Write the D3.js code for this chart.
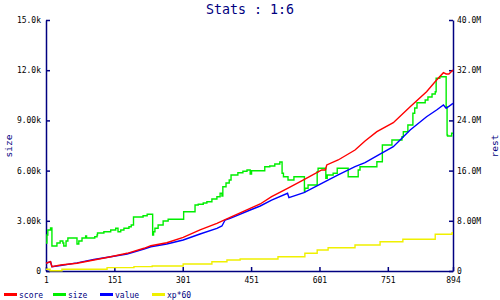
<!DOCTYPE html>
<html>
<head>
<meta charset="utf-8">
<script src="https://cdn.jsdelivr.net/npm/d3@7"></script>
<style>
  body { margin: 0; background: #fff; }
  svg { display: block; }
  text { font-family: "DejaVu Sans Mono", monospace; }
</style>
</head>
<body>
<svg id="chart" width="500" height="300"></svg>
<script>
// series, as [index, value] pairs
const score = [[1,1.23e6],[11,1.48e6],[14,0.69e6],[33,0.96e6],[69,1.23e6],[106,1.75e6],[143,2.28e6],[179,2.82e6],[216,3.62e6],[231,4.03e6],[266,4.51e6],[302,5.37e6],[339,6.54e6],[376,7.60e6],[405,8.56e6],[449,9.99e6],[471,10.68e6],[496,11.84e6],[531,13.18e6],[565,14.50e6],[606,16.10e6],[614,16.10e6],[617,16.90e6],[642,17.69e6],[679,19.28e6],[701,20.72e6],[727,22.20e6],[763,23.63e6],[800,26.18e6],[836,28.57e6],[858,30.44e6],[873,31.60e6],[879,31.40e6],[885,31.40e6],[894,32.03e6]];
const value = [[1,1.23e6],[11,1.48e6],[14,0.69e6],[33,0.88e6],[69,1.30e6],[106,1.83e6],[143,2.28e6],[179,2.71e6],[216,3.51e6],[231,3.87e6],[266,4.30e6],[302,4.94e6],[339,5.90e6],[376,6.80e6],[387,7.17e6],[394,8.13e6],[405,8.40e6],[449,9.72e6],[471,10.36e6],[496,11.31e6],[531,12.38e6],[534,11.68e6],[567,12.48e6],[606,13.98e6],[642,15.30e6],[679,16.62e6],[701,17.26e6],[727,18.33e6],[763,19.81e6],[800,22.47e6],[836,24.59e6],[858,25.66e6],[873,26.45e6],[879,25.93e6],[894,26.72e6]];
const size = [[1,1673],[3,2151],[5,2450],[11,2570],[14,1494],[25,1673],[32,1793],[38,1673],[40,1494],[45,1793],[49,1972],[69,1614],[73,1793],[80,1972],[88,2092],[90,1972],[108,2050],[113,2151],[114,2271],[128,2349],[143,2450],[154,2552],[159,2349],[165,2450],[172,2552],[183,2647],[188,2749],[193,3227],[214,3305],[223,3388],[235,2151],[237,2349],[240,2552],[247,2749],[258,2988],[269,3090],[303,3544],[328,3944],[335,3986],[346,4064],[354,4141],[365,4303],[376,4440],[383,4643],[387,4482],[389,5038],[396,5259],[403,5438],[407,5737],[422,5874],[433,5958],[442,6036],[449,5797],[452,5994],[481,6233],[492,6275],[503,6394],[514,6514],[519,5839],[522,5635],[532,5438],[545,5635],[568,4739],[569,4942],[576,5139],[596,5934],[598,6137],[615,5540],[618,5737],[631,5839],[640,6137],[664,5635],[686,6036],[690,6233],[727,6532],[739,7530],[760,7829],[782,8026],[785,8324],[795,8725],[806,9424],[810,9741],[815,10058],[833,10219],[839,10398],[848,10578],[855,10715],[857,11516],[865,11612],[879,9819],[881,8127],[882,8067],[891,8230],[894,8230]];
const xp60 = [[1,0.27e6],[10,0.05e6],[36,0.27e6],[135,0.53e6],[194,0.69e6],[234,0.80e6],[302,1.12e6],[365,1.48e6],[398,1.75e6],[427,1.91e6],[510,2.28e6],[569,2.82e6],[596,3.35e6],[620,3.71e6],[679,4.14e6],[734,4.67e6],[784,5.05e6],[855,5.85e6],[892,6.10e6],[894,6.10e6]];

const xTicks = [1, 151, 301, 451, 601, 751, 894];
const leftTicks = [0, 3000, 6000, 9000, 12000, 15000];
const rightTicks = [0, 8e6, 16e6, 24e6, 32e6, 40e6];
const legendItems = [["score", "#ff0000"], ["size", "#00ee00"], ["value", "#0000ff"], ["xp*60", "#f0f000"]];

const navy = "#000080";
const m = { left: 46, right: 453, top: 20, bottom: 271 };

const svg = d3.select("#chart");

const x = d3.scaleLinear().domain([1, 894]).range([m.left, m.right]);
const yL = d3.scaleLinear().domain([0, 15000]).range([m.bottom, m.top]);
const yR = d3.scaleLinear().domain([0, 40e6]).range([m.bottom, m.top]);

const fmt = v => v === 0 ? "0" : d3.format(".3s")(v);

function styleAxis(g) {
  g.selectAll("path, line").attr("stroke", navy).attr("stroke-width", 1.5);
  g.selectAll("text").attr("fill", "#000").attr("font-size", 8)
    .attr("font-family", "DejaVu Sans Mono, monospace");
}

svg.append("g")
  .attr("transform", `translate(0,${m.bottom})`)
  .call(d3.axisBottom(x).tickValues(xTicks).tickFormat(d3.format("d")).tickSizeInner(-4).tickSizeOuter(0).tickPadding(6))
  .call(styleAxis);

svg.append("g")
  .attr("transform", `translate(${m.left},0)`)
  .call(d3.axisLeft(yL).tickValues(leftTicks).tickFormat(fmt).tickSizeInner(-4).tickSizeOuter(0).tickPadding(5))
  .call(styleAxis);

svg.append("g")
  .attr("transform", `translate(${m.right},0)`)
  .call(d3.axisRight(yR).tickValues(rightTicks).tickFormat(fmt).tickSizeInner(-4).tickSizeOuter(0).tickPadding(4))
  .call(styleAxis);

const lineR = d3.line().x(d => x(d[0])).y(d => yR(d[1]));
const stepR = d3.line().x(d => x(d[0])).y(d => yR(d[1])).curve(d3.curveStepAfter);
const stepL = d3.line().x(d => x(d[0])).y(d => yL(d[1])).curve(d3.curveStepAfter);

const plot = svg.append("g").attr("fill", "none").attr("stroke-width", 1.4);
plot.append("path").datum(xp60).attr("stroke", "#f0f000").attr("d", stepR);
plot.append("path").datum(size).attr("stroke", "#00ee00").attr("d", stepL);
plot.append("path").datum(value).attr("stroke", "#0000ff").attr("d", lineR);
plot.append("path").datum(score).attr("stroke", "#ff0000").attr("d", lineR);

// title and axis labels
svg.append("text")
  .attr("x", 250).attr("y", 14)
  .attr("text-anchor", "middle")
  .attr("font-size", 13.3)
  .attr("fill", navy)
  .text("Stats : 1:6");

svg.append("text")
  .attr("transform", "translate(11.5,146) rotate(-90)")
  .attr("text-anchor", "middle")
  .attr("font-size", 9.5)
  .attr("fill", navy)
  .text("size");

svg.append("text")
  .attr("transform", "translate(498,146) rotate(-90)")
  .attr("text-anchor", "middle")
  .attr("font-size", 9.5)
  .attr("fill", navy)
  .text("rest");

// legend
const legendX = [4, 53, 100, 152];
const legend = svg.append("g");
legendItems.forEach((d, i) => {
  legend.append("line")
    .attr("x1", legendX[i]).attr("x2", legendX[i] + 13)
    .attr("y1", 294.5).attr("y2", 294.5)
    .attr("stroke", d[1]).attr("stroke-width", 3);
  legend.append("text")
    .attr("x", legendX[i] + 15).attr("y", 297.5)
    .attr("font-size", 8)
    .attr("fill", navy)
    .text(d[0]);
});
</script>
</body>
</html>
